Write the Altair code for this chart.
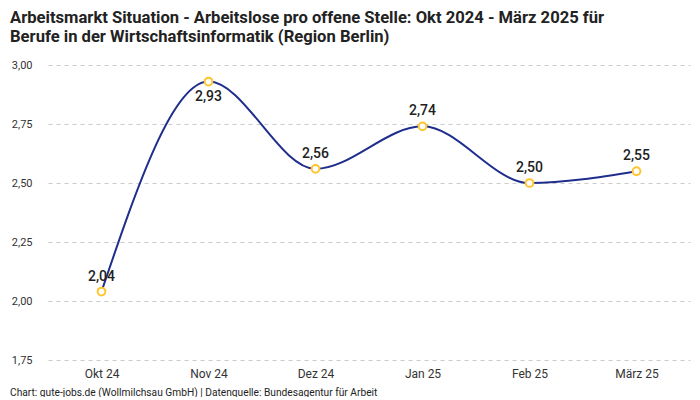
import altair as alt
import pandas as pd

months = ["Okt 24", "Nov 24", "Dez 24", "Jan 25", "Feb 25", "März 25"]
values = [2.04, 2.93, 2.56, 2.74, 2.50, 2.55]
label_pos = ["above", "below", "above", "above", "above", "above"]

df = pd.DataFrame({"month": months, "value": values, "pos": label_pos})
df["label"] = df["value"].map(lambda v: f"{v:.2f}".replace(".", ","))

FONT = "Liberation Sans Narrow, Roboto, sans-serif"

x = alt.X("month:N", sort=months, title=None,
          scale=alt.Scale(type="point", padding=0.5),
          axis=alt.Axis(labelAngle=0, domain=False, ticks=False, grid=False,
                        labelPadding=8, labelFontSize=12, labelColor="#333",
                        labelFont=FONT))
y = alt.Y("value:Q", title=None,
          scale=alt.Scale(domain=[1.75, 3.0], nice=False, zero=False),
          axis=alt.Axis(values=[1.75, 2.0, 2.25, 2.5, 2.75, 3.0],
                        labelExpr="replace(format(datum.value, '.2f'), '.', ',')",
                        domain=False, ticks=False, grid=True, gridColor="#cccccc",
                        gridDash=[4, 4], labelPadding=16, labelFontSize=11,
                        labelColor="#333", labelFont="Roboto"))

base = alt.Chart(df)

line = base.mark_line(interpolate="monotone", color="#1f2e8c", strokeWidth=2).encode(x=x, y=y)
points = base.mark_point(filled=False, shape="circle", size=60, strokeWidth=2,
                         color="#ffc52e", fill="white", fillOpacity=1, opacity=1).encode(x=x, y=y)
above = base.transform_filter("datum.pos == 'above'").mark_text(
    dy=-15, fontSize=14, fontWeight=500, color="#222", font="Roboto").encode(x=x, y=y, text="label:N")
below = base.transform_filter("datum.pos == 'below'").mark_text(
    dy=15, fontSize=14, fontWeight=500, color="#222", font="Roboto").encode(x=x, y=y, text="label:N")
footer = alt.Chart(pd.DataFrame({"t": ["Chart: gute-jobs.de (Wollmilchsau GmbH) | Datenquelle: Bundesagentur für Arbeit"]})).mark_text(
    align="left", baseline="middle", fontSize=10.2, color="#222", font="Roboto").encode(
    x=alt.value(-38), y=alt.value(328), text="t:N")

chart = alt.layer(line, points, above, below, footer).properties(
    width=642, height=295,
    autosize=alt.AutoSizeParams(type="none"),
    padding={"left": 40, "top": 57, "right": 2, "bottom": 37},
    title=alt.TitleParams(
        text=["Arbeitsmarkt Situation - Arbeitslose pro offene Stelle: Okt 2024 - März 2025 für",
              "Berufe in der Wirtschaftsinformatik (Region Berlin)"],
        anchor="start", frame="group", dx=-38, offset=13, fontSize=16.6, fontWeight="bold",
        font=FONT, color="#222", lineHeight=19)
).configure_view(stroke=None)

chart.save("out.html", embed_options={"renderer": "svg", "actions": False})
